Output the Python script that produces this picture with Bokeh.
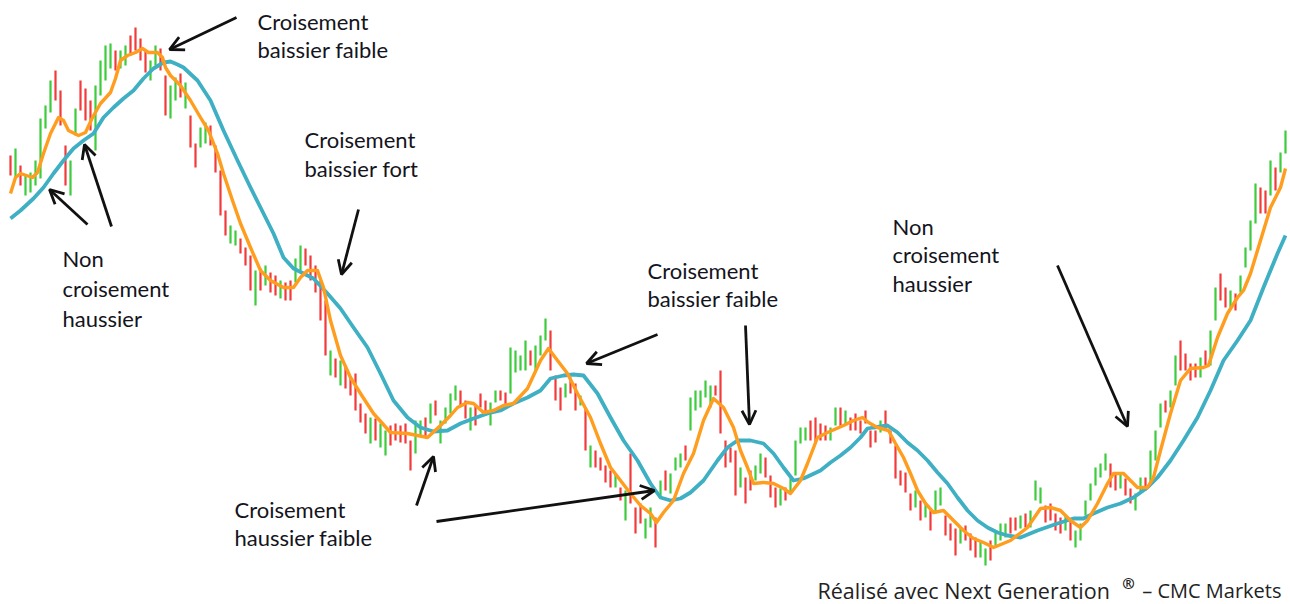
from bokeh.plotting import figure
from bokeh.models import ColumnDataSource, Range1d, Label, Arrow, OpenHead
from bokeh.embed import file_html
from bokeh.resources import INLINE

# ---------------- data (price units, bar index = session) ----------------
high = [
    445, 452, 435, 425, 428, 440, 482, 495, 520, 530,
    510, 455, 440, 492, 520, 512, 500, 515, 540, 555,
    557, 550, 550, 555, 565, 573, 562, 550, 540, 555,
    552, 525, 515, 523, 527, 518, 485, 457, 473, 478,
    475, 455, 430, 390, 375, 370, 362, 353, 345, 330,
    332, 335, 328, 325, 320, 318, 320, 342, 355, 352,
    345, 335, 320, 300, 250, 242, 240, 235, 223, 227,
    197, 187, 183, 182, 177, 170, 175, 177, 175, 177,
    160, 180, 180, 183, 197, 200, 180, 193, 207, 215,
    210, 200, 193, 195, 207, 200, 198, 210, 210, 208,
    253, 250, 245, 260, 250, 255, 265, 282, 270, 225,
    213, 217, 223, 217, 205, 193, 155, 150, 143, 135,
    130, 127, 113, 110, 147, 93, 97, 82, 93, 83,
    120, 130, 127, 143, 147, 155, 203, 210, 210, 220,
    215, 215, 230, 160, 153, 150, 133, 123, 130, 135,
    147, 143, 125, 113, 112, 113, 122, 160, 173, 173,
    180, 183, 177, 175, 173, 193, 193, 190, 183, 187,
    180, 190, 170, 170, 180, 190, 170, 155, 130, 128,
    107, 110, 100, 97, 90, 110, 113, 85, 77, 72,
    73, 75, 67, 63, 60, 52, 60, 70, 77, 77,
    83, 83, 85, 87, 90, 120, 113, 95, 97, 87,
    83, 85, 80, 70, 77, 100, 117, 133, 137, 147,
    137, 127, 128, 122, 112, 107, 123, 123, 150, 170,
    197, 200, 210, 245, 260, 247, 237, 237, 243, 250,
    270, 313, 327, 313, 310, 307, 325, 353, 380, 417,
    413, 410, 440, 433, 448, 470,
]
low = [
    425, 422, 415, 405, 408, 415, 422, 472, 488, 500,
    475, 415, 405, 465, 490, 480, 470, 450, 505, 520,
    532, 530, 532, 535, 545, 550, 540, 528, 520, 535,
    530, 485, 482, 500, 503, 492, 453, 433, 453, 457,
    455, 428, 385, 365, 357, 355, 347, 335, 310, 295,
    310, 315, 308, 305, 302, 300, 300, 318, 330, 335,
    320, 308, 280, 245, 225, 223, 215, 212, 205, 190,
    178, 167, 157, 160, 153, 145, 155, 160, 158, 157,
    130, 147, 165, 163, 177, 185, 157, 177, 187, 200,
    195, 182, 170, 175, 193, 185, 175, 198, 200, 195,
    207, 228, 230, 230, 235, 228, 245, 260, 230, 200,
    190, 203, 207, 190, 195, 150, 133, 133, 130, 118,
    113, 113, 100, 80, 97, 67, 77, 62, 73, 53,
    103, 110, 107, 130, 133, 140, 170, 190, 193, 203,
    193, 205, 167, 133, 138, 105, 113, 97, 110, 120,
    127, 123, 103, 93, 95, 100, 107, 125, 157, 160,
    160, 157, 160, 160, 160, 175, 173, 175, 170, 170,
    167, 177, 153, 158, 168, 170, 157, 122, 115, 108,
    90, 93, 80, 83, 70, 87, 95, 65, 60, 45,
    57, 60, 50, 43, 43, 35, 40, 55, 60, 63,
    67, 70, 72, 73, 73, 100, 97, 78, 80, 70,
    67, 70, 60, 53, 60, 85, 100, 115, 123, 130,
    113, 110, 112, 105, 97, 90, 108, 110, 117, 140,
    173, 188, 193, 215, 230, 230, 220, 223, 223, 235,
    235, 280, 300, 293, 293, 290, 308, 333, 350, 377,
    387, 387, 405, 410, 428, 447,
]
# g = bar up (green), r = bar down (red)
direction = list(
    "rgrggggggr" "rrggrrrggg" "grggrrrrgg" "rrggrgrrgg" "rrrrggrrrg"
    "rgrrgrrggr" "rrrrgrgrrr" "rrgrggrrrr" "rggrgrgggg" "rrgrrrggrr"
    "ggggrgggrr" "rgrrgrgrrr" "rgrgrrrggr" "grgggrgggg" "grrrrrgrrg"
    "grrrgrgggg" "rrrrggrgrr" "rrrrgrrrrr" "rgrgrggrrr" "grrrggrggg"
    "rrgrgggrrr" "rgrggggggg" "rrgrrggrgg" "grggrrrrgr" "ggrrgrgggg"
    "rrgrgg"
)

# fast moving average (orange), read at session positions
fast_t = [
    0, 1, 2, 4.4, 5.4, 6.6, 8, 9.6, 10.6, 11.6,
    13.6, 15, 16.4, 18, 20, 21, 22, 23.4, 25, 26.4,
    27.6, 29.4, 30.4, 31, 32, 34, 36, 38, 39.6, 41.4,
    42.6, 44.4, 46, 48, 50, 52, 54.6, 56.6, 58, 59.4,
    61.4, 62.6, 64, 66, 68, 70, 72.6, 76, 79.4, 83.4,
    86, 88, 89.4, 91.4, 92.6, 94.6, 96.6, 98.6, 100.6, 103.4,
    106, 107.6, 109.4, 111.4, 113.4, 116, 118, 120, 122, 124,
    126, 128, 129.2, 130.6, 132.6, 134.6, 136.6, 138.6, 140.6, 142.6,
    144.6, 146, 147.4, 148.6, 150.6, 152.6, 154.6, 156, 158, 159.4,
    161.4, 163.4, 166.6, 168.6, 170.4, 171.6, 173.4, 175.6, 177, 178.6,
    180, 181.4, 183, 184.6, 186.6, 188.6, 190.6, 192.6, 194.6, 196.6,
    200, 203.4, 206, 208, 210, 212, 214, 215.4, 217.4, 219.4,
    220.6, 222.6, 224, 225.4, 227.4, 228.6, 230, 232, 234, 236,
    238.6, 239.6, 241.4, 243.4, 245.4, 246.6, 248, 250, 252, 254, 255,
]
fast_ma = [
    407, 423, 427, 423, 428, 447, 467, 483, 480, 470,
    465, 468, 483, 497, 508, 522, 540, 545, 548, 552,
    548, 548, 543, 533, 525, 515, 500, 483, 470, 447,
    427, 400, 377, 353, 330, 320, 313, 313, 323, 330,
    330, 313, 280, 245, 223, 207, 187, 168, 167, 163,
    175, 185, 193, 198, 197, 188, 190, 195, 197, 212,
    240, 252, 240, 227, 207, 183, 157, 133, 120, 107,
    95, 87, 78, 88, 100, 127, 147, 180, 202, 193,
    173, 150, 133, 117, 118, 117, 112, 107, 120, 137,
    163, 168, 175, 180, 183, 178, 173, 170, 157, 143,
    127, 110, 97, 88, 90, 80, 70, 62, 58, 53,
    60, 73, 92, 93, 90, 80, 73, 80, 97, 117,
    127, 127, 120, 113, 113, 123, 150, 187, 220, 232,
    233, 235, 263, 287, 303, 310, 327, 360, 393, 413, 432,
]

# slow moving average (teal)
slow_t = [
    0, 2, 4.6, 6.6, 8.6, 10.6, 12.6, 14.6, 16.6, 18.6,
    20.6, 22.6, 24.6, 26.6, 28.6, 30.6, 32, 33.4, 34.6, 37.4,
    40, 42.6, 45.4, 48, 50.6, 52.6, 54.6, 56.6, 58.6, 60.6,
    63.4, 66, 68.6, 71.4, 74, 76.6, 79.4, 82, 84.6, 87.4,
    90, 92.6, 95.4, 98, 100.6, 103.4, 106, 108, 110.6, 112.6,
    114.6, 117.4, 120, 122.6, 125.4, 128, 130, 132, 134, 136,
    138.6, 141.4, 143.4, 145.4, 148, 150.6, 152.6, 154.6, 156.6, 158.6,
    162, 164, 166, 168, 170, 171.4, 172.6, 175.4, 177.4, 179.4,
    181.4, 183.4, 185.4, 187.4, 189.4, 191.4, 193.4, 195.4, 197.4, 199.4,
    202, 205.4, 209.4, 212.6, 214.6, 216.6, 219.4, 222, 224.6, 227.4,
    229.4, 232, 234.6, 237.4, 240, 242.6, 245.4, 248, 250.6, 253.4, 255,
]
slow_ma = [
    382, 390, 402, 413, 427, 440, 452, 460, 467, 483,
    493, 502, 510, 522, 532, 538, 539, 536, 533, 520,
    500, 470, 440, 413, 387, 367, 343, 332, 327, 322,
    307, 292, 273, 253, 227, 200, 183, 173, 169, 170,
    177, 182, 187, 190, 197, 203, 210, 222, 225, 226,
    225, 207, 183, 160, 140, 117, 103, 100, 102, 108,
    120, 140, 153, 160, 160, 157, 147, 133, 120, 122,
    130, 138, 145, 153, 163, 172, 173, 175, 168, 158,
    150, 140, 128, 117, 103, 90, 80, 73, 68, 65,
    63, 70, 77, 82, 82, 87, 93, 97, 103, 113,
    123, 140, 160, 183, 210, 240, 260, 280, 313, 347, 365,
]

# annotations
notes = [
    ["Croisement", "baissier faible"],
    ["Croisement", "baissier fort"],
    ["Non", "croisement", "haussier"],
    ["Croisement", "baissier faible"],
    ["Non", "croisement", "haussier"],
    ["Croisement", "haussier faible"],
]
footer = ["Réalisé avec Next Generation", "®", "– CMC Markets"]

# ---------------- layout helpers (reference pixel -> data) ----------------
def tx(xpx):
    return (xpx - 10) / 5.0

def py(ypx):
    return 600 - ypx

W, H = 1290, 604
p = figure(width=W, height=H, output_backend="svg", toolbar_location=None,
           x_range=Range1d(tx(0), tx(W)), y_range=Range1d(py(H), py(0)),
           min_border=0, min_border_left=0, min_border_right=0,
           min_border_top=0, min_border_bottom=0)
p.xaxis.visible = False
p.yaxis.visible = False
p.xgrid.visible = False
p.ygrid.visible = False
p.outline_line_color = None
p.background_fill_color = "white"
p.border_fill_color = "white"

colors = {"g": "#3ccc3c", "r": "#f23a3a"}
src = ColumnDataSource(dict(
    t=list(range(len(high))), high=high, low=low,
    color=[colors[d] for d in direction],
))
p.segment(x0="t", y0="low", x1="t", y1="high", color="color",
          line_width=2.2, source=src)

p.line(slow_t, slow_ma, color="#3fb0c4", line_width=3.8, line_join="round")
p.line(fast_t, fast_ma, color="#ff9d1e", line_width=3.4, line_join="round")

# arrows (reference pixel coordinates of tail -> head)
arrows = [
    ((236, 17), (169, 49)),
    ((358, 209), (341, 274)),
    ((87, 224), (49, 189)),
    ((111, 226), (84, 144)),
    ((416, 505), (433, 456)),
    ((436, 521), (654, 490)),
    ((657, 334), (586, 363)),
    ((745, 325), (749, 424)),
    ((1057, 265), (1127, 426)),
]
for (xa, ya), (xb, yb) in arrows:
    p.add_layout(Arrow(
        x_start=tx(xa), y_start=py(ya), x_end=tx(xb), y_end=py(yb),
        line_color="#111111", line_width=2.8,
        end=OpenHead(size=14, line_width=2.8, line_color="#111111")))

# note text positions (left x, y centre of each line) in reference px
note_pos = [
    (257, [21, 49]),
    (304, [139, 168]),
    (62, [258, 288, 318]),
    (647, [270, 298]),
    (892, [226, 254, 283]),
    (234, [509, 537]),
]
for lines, (xl, ys) in zip(notes, note_pos):
    for txt, yc in zip(lines, ys):
        p.add_layout(Label(x=tx(xl), y=py(yc), text=txt,
                           text_font="Lato", text_font_size="22px",
                           text_color="#141420", text_baseline="middle",
                           text_align="left"))

p.add_layout(Label(x=tx(817), y=py(590), text=footer[0], text_font="Open Sans",
                   text_font_size="21.5px", text_color="#222222",
                   text_baseline="alphabetic", text_align="left"))
p.add_layout(Label(x=tx(1128), y=py(582), text=footer[1], text_font="Open Sans",
                   text_font_size="15px", text_font_style="bold",
                   text_color="#222222", text_baseline="alphabetic",
                   text_align="center"))
p.add_layout(Label(x=tx(1281), y=py(590), text=footer[2], text_font="Open Sans",
                   text_font_size="20px", text_color="#222222",
                   text_baseline="alphabetic", text_align="right"))

open("out.html", "w").write(file_html(p, INLINE))
